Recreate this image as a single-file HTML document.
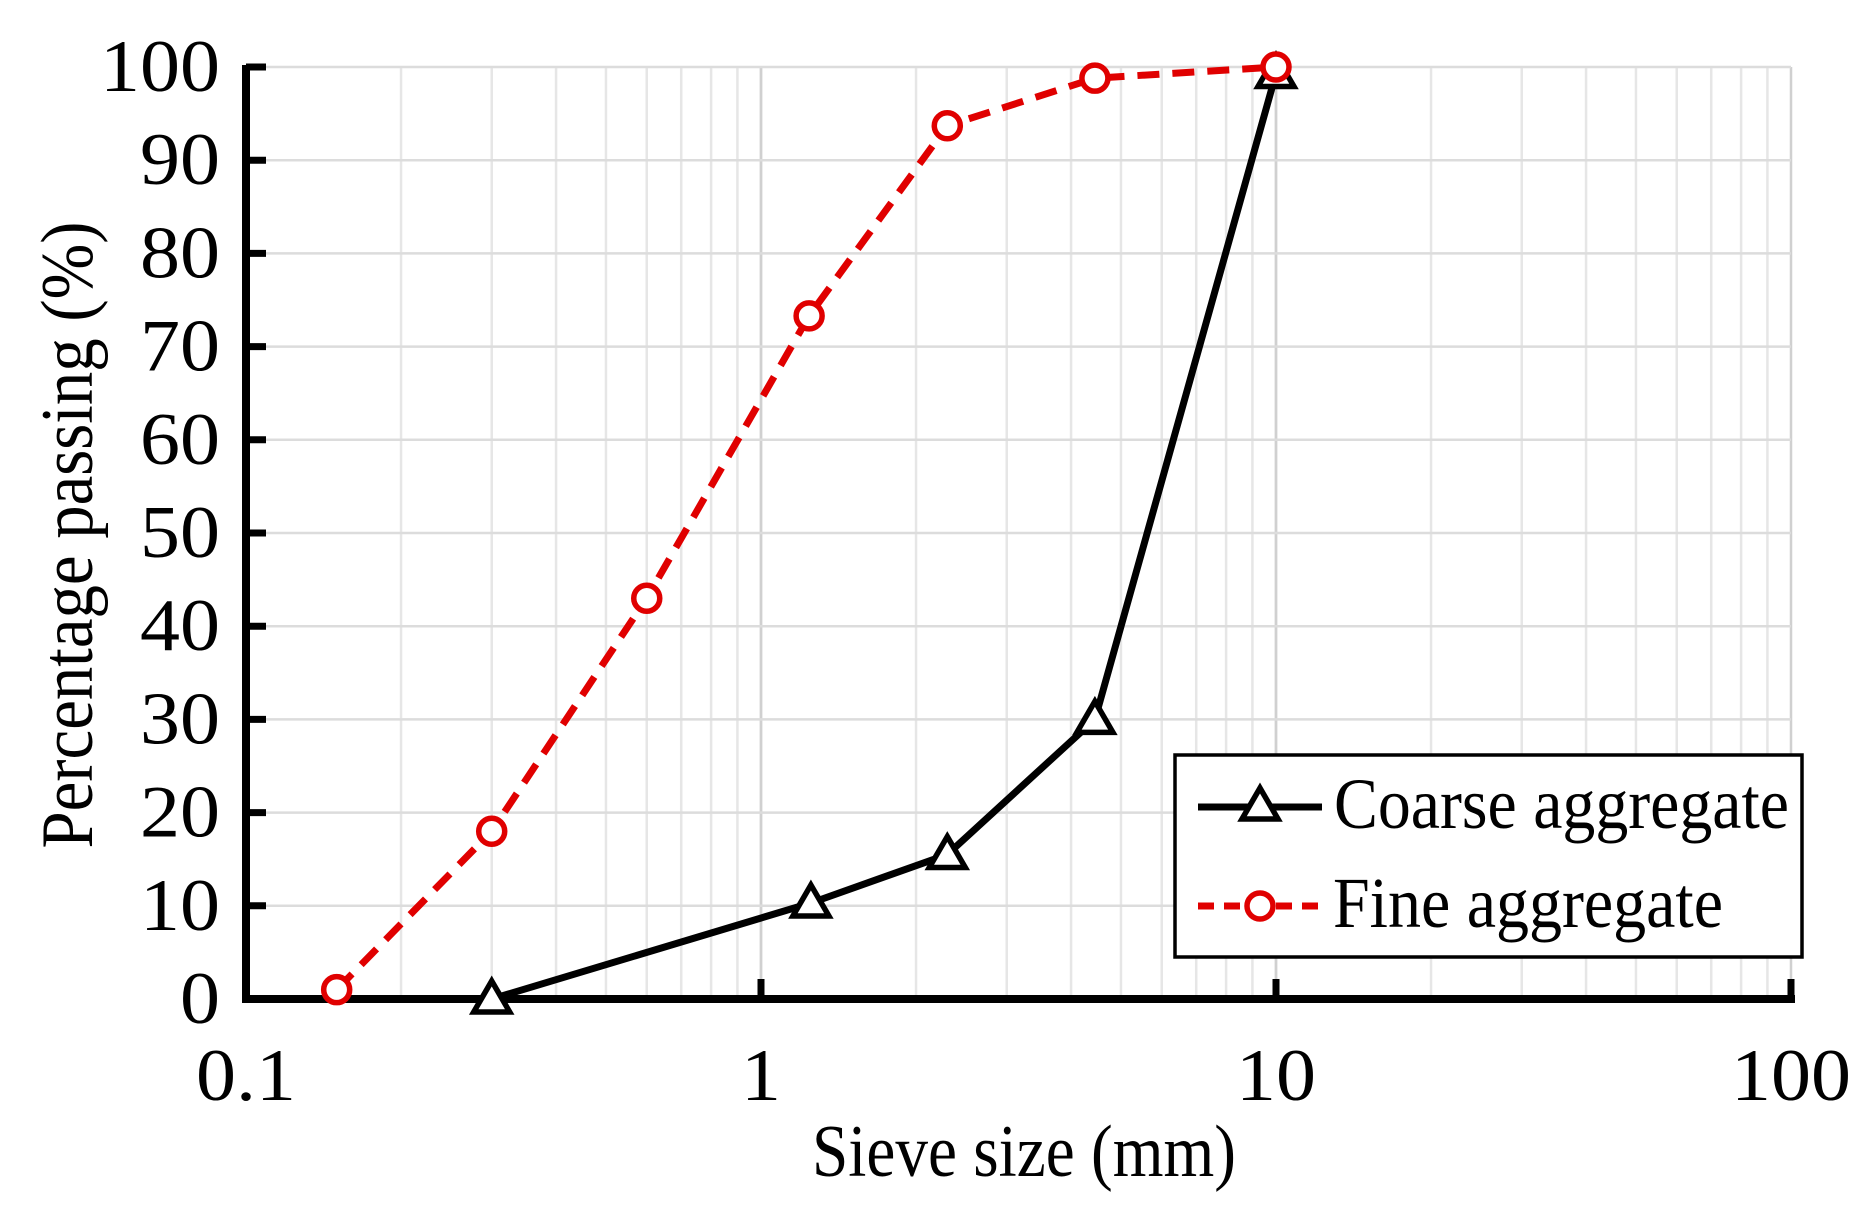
<!DOCTYPE html>
<html><head><meta charset="utf-8"><style>
html,body{margin:0;padding:0;background:#fff}
svg{display:block}
text{font-family:"Liberation Serif",serif;fill:#000}
</style></head><body>
<svg width="1863" height="1214" viewBox="0 0 1863 1214" xmlns="http://www.w3.org/2000/svg">
<g id="grid" stroke="#dcdcdc" stroke-width="2.5"></g>
<g id="axes"></g>
<g id="data"></g>
<g id="labels"></g>
<rect x="1175" y="755" width="627" height="202" fill="#fff" stroke="#000" stroke-width="3.5"/>
<line x1="1198" y1="807" x2="1322" y2="807" stroke="#000" stroke-width="7"/>
<polygon points="1260,788 1278,819 1242,819" fill="#fff" stroke="#000" stroke-width="5.5"/>
<text x="1334" y="828" font-size="72" textLength="455" lengthAdjust="spacingAndGlyphs">Coarse aggregate</text>
<line x1="1198" y1="906" x2="1322" y2="906" stroke="#e00000" stroke-width="7" stroke-dasharray="16,10"/>
<circle cx="1260" cy="906" r="13" fill="#fff" stroke="#e00000" stroke-width="5.5"/>
<text x="1333" y="927" font-size="72" textLength="390" lengthAdjust="spacingAndGlyphs">Fine aggregate</text>
<script>
const X0=246,DEC=515,Y0=999,YS=9.32;
const xp=v=>X0+(Math.log10(v)+1)*DEC, yp=v=>Y0-v*YS;
const ns='http://www.w3.org/2000/svg';
function el(p,t,a,txt){const e=document.createElementNS(ns,t);for(const k in a)e.setAttribute(k,a[k]);if(txt!==undefined)e.textContent=txt;document.getElementById(p).appendChild(e);return e;}
for(let d=0.1;d<100;d*=10)for(let m=1;m<=10;m++){const x=xp(d*m);el('grid','line',{x1:x,y1:yp(100),x2:x,y2:Y0,stroke:m==1||m==10?'#d0d0d0':'#e6e6e6'});}
for(let v=10;v<=100;v+=10)el('grid','line',{x1:X0,y1:yp(v),x2:xp(100),y2:yp(v)});
el('axes','line',{x1:X0,y1:yp(100)-2,x2:X0,y2:Y0+4,stroke:'#000','stroke-width':8});
el('axes','line',{x1:X0-4,y1:Y0,x2:xp(100)+4,y2:Y0,stroke:'#000','stroke-width':8});
for(let v=0;v<=100;v+=10)el('axes','line',{x1:X0,y1:yp(v),x2:X0+20,y2:yp(v),stroke:'#000','stroke-width':7});
[1,10,100].forEach(v=>el('axes','line',{x1:xp(v),y1:Y0,x2:xp(v),y2:Y0-20,stroke:'#000','stroke-width':7}));
for(let v=0;v<=100;v+=10){const s=String(v);el('labels','text',{x:220,y:yp(v)+24,'font-size':74,'text-anchor':'end',textLength:s.length*40,lengthAdjust:'spacingAndGlyphs'},s);}
[['0.1',0.1],['1',1],['10',10],['100',100]].forEach(([s,v])=>el('labels','text',{x:xp(v),y:1100,'font-size':74,'text-anchor':'middle',textLength:s.length*40-(s.includes('.')?20:0),lengthAdjust:'spacingAndGlyphs'},s));
el('labels','text',{x:1024,y:1176,'font-size':74,'text-anchor':'middle',textLength:424,lengthAdjust:'spacingAndGlyphs'},'Sieve size (mm)');
el('labels','text',{x:0,y:0,'font-size':74,'text-anchor':'middle',textLength:627,lengthAdjust:'spacingAndGlyphs',transform:'translate(92,535) rotate(-90)'},'Percentage  passing  (%)');
const fine=[[0.15,1],[0.3,18],[0.6,43],[1.24,73.3],[2.3,93.7],[4.45,98.8],[10,100]];
const coarse=[[0.3,0],[1.25,10.3],[2.3,15.5],[4.45,30],[10,99.3]];
el('data','polyline',{points:coarse.map(p=>xp(p[0])+','+yp(p[1])).join(' '),fill:'none',stroke:'#000','stroke-width':7,'stroke-linejoin':'round'});
coarse.forEach(p=>{const x=xp(p[0]),y=yp(p[1]);el('data','polygon',{points:`${x},${y-18} ${x+18},${y+13} ${x-18},${y+13}`,fill:'#fff',stroke:'#000','stroke-width':5.5});});
el('data','polyline',{points:fine.map(p=>xp(p[0])+','+yp(p[1])).join(' '),fill:'none',stroke:'#e00000','stroke-width':7,'stroke-dasharray':'22,13'});
fine.forEach(p=>el('data','circle',{cx:xp(p[0]),cy:yp(p[1]),r:13,fill:'#fff',stroke:'#e00000','stroke-width':5.5}));
</script>
</svg>
</body></html>
